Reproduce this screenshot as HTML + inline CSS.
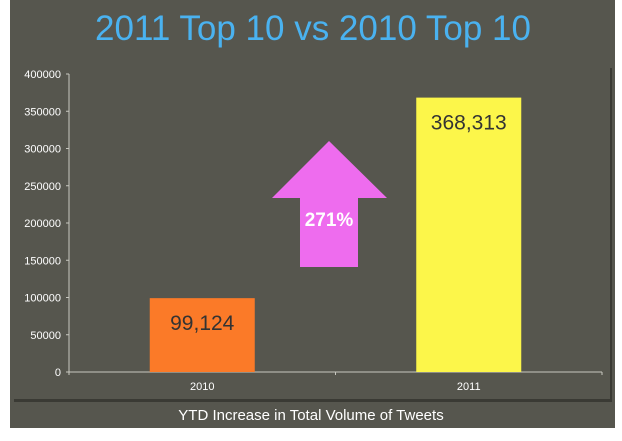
<!DOCTYPE html>
<html><head><meta charset="utf-8"><style>
body{margin:0;background:#fff;width:622px;height:436px;overflow:hidden;font-family:"Liberation Sans",sans-serif}
</style></head><body>
<svg width="622" height="436">
<rect x="10" y="0" width="605" height="428" fill="#56564e"/>
<rect x="14" y="68" width="598" height="334" fill="#3a3a34"/>
<rect x="12" y="66" width="598" height="333" fill="#56564e"/>
<text x="313" y="40" text-anchor="middle" font-size="35" fill="#4ab2f0">2011 Top 10 vs 2010 Top 10</text>
<g id="axes"></g>
<g id="bars"></g>
<polygon points="329,141 387,198 358,198 358,267 300,267 300,198 272,198" fill="#ee6cee"/>
<text x="329" y="226" text-anchor="middle" font-size="19" font-weight="bold" fill="#fff">271%</text>
<text x="311" y="420" text-anchor="middle" font-size="15" fill="#fff">YTD Increase in Total Volume of Tweets</text>
</svg>
<script>
const categories=["2010","2011"];
const values=[99124,368313];
const valueLabels=["99,124","368,313"];
const ticks=[0,50000,100000,150000,200000,250000,300000,350000,400000];
const colors=["#fb7a28","#fcf64a"];
const NS="http://www.w3.org/2000/svg";
const x0=69,x1=602,yTop=74,yBot=372,maxV=400000;
const y=v=>yBot-(v/maxV)*(yBot-yTop);
const bandW=(x1-x0)/categories.length;
const xc=i=>x0+bandW*(i+0.5);
function mk(t,a,p){const e=document.createElementNS(NS,t);for(const k in a)e.setAttribute(k,a[k]);p.appendChild(e);return e;}
const ax=document.getElementById('axes'),bg=document.getElementById('bars');
let l=mk('line',{x1:x0,y1:yTop,x2:x0,y2:yBot,stroke:'#c8c8c0','stroke-width':1},ax);


l=mk('line',{x1:x0,y1:yBot,x2:x1,y2:yBot,stroke:'#c8c8c0','stroke-width':1},ax);


ticks.forEach(t=>{
 const tk=mk('line',{x1:x0-3,y1:y(t),x2:x0,y2:y(t),stroke:'#c8c8c0'},ax);
 
 
 const tx=mk('text',{x:x0-8,y:y(t)+4,'text-anchor':'end','font-size':11,fill:'#fff'},ax);
 tx.textContent=t;
 
 
});
for(let i=0;i<=categories.length;i++){
 const tk=mk('line',{x1:x0+bandW*i,y1:yBot,x2:x0+bandW*i,y2:yBot+3,stroke:'#c8c8c0'},ax);
 
 
}
const bw=105;
categories.forEach((c,i)=>{
 const r=mk('rect',{x:xc(i)-bw/2,y:y(values[i]),width:bw,height:yBot-y(values[i]),fill:colors[i]},bg);
 
 
 const vl=mk('text',{x:xc(i),y:y(values[i])+32,'text-anchor':'middle','font-size':21,fill:'#333'},bg);
 vl.textContent=valueLabels[i];
 
 
 const cl=mk('text',{x:xc(i),y:yBot+18,'text-anchor':'middle','font-size':11,fill:'#fff'},bg);
 cl.textContent=c;
 
 
});
</script>
</body></html>
